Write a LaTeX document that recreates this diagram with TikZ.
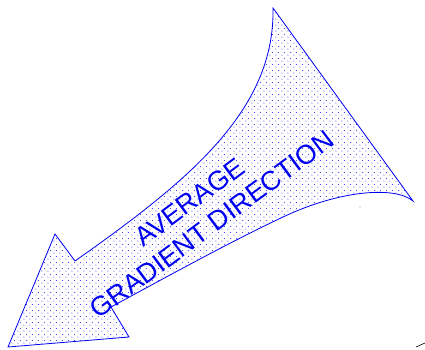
\documentclass[tikz,border=0pt]{standalone}
\usepackage{fontspec}
\setmainfont{Liberation Sans}
\usetikzlibrary{patterns.meta}
\definecolor{arrowblue}{RGB}{0,0,240}
\tikzdeclarepattern{name=sparsedots,type=uncolored,bounding box={(0,0) and (5.5pt,5.5pt)},tile size={(5.5pt,5.5pt)},code={\fill (1pt,1pt) circle (0.6pt); \fill (3.75pt,3.75pt) circle (0.6pt);}}
\tikzset{
  bigarrow/.style={draw=arrowblue, line width=0.8pt, line join=miter, pattern=sparsedots, pattern color=arrowblue!80},
  arrowtext/.style={text=arrowblue, font=\fontsize{27}{31}\selectfont, inner sep=0pt, anchor=base west, rotate=36.5}
}
\begin{document}
\begin{tikzpicture}[x=1pt,y=1pt]
\useasboundingbox (0,0) rectangle (425,349);
\coordinate (tip) at (8,2);
\coordinate (barbtop) at (55,115);
\coordinate (notchtop) at (75,88);
\coordinate (top) at (273,341);
\coordinate (right) at (413,148);
\coordinate (mid) at (283,132);
\coordinate (notchbot) at (111,42);
\coordinate (barbbot) at (129,12);
\draw[bigarrow] (tip) -- (barbtop) -- (notchtop)
  .. controls (190,169) and (275,239) .. (top)
  -- (right)
  .. controls (395,163) and (340,159) .. (mid)
  .. controls (230,107) and (170,74) .. (notchbot)
  -- (barbbot) -- cycle;
\node[arrowtext] (line1) at (143,101) {AVERAGE};
\node[arrowtext] (line2) at (98.5,29) {GRADIENT DIRECTION};
\fill[arrowblue!50] (360,142) circle (0.6pt);
\coordinate (s1) at (416,2);
\coordinate (s2) at (425,6);
\draw[black, line width=0.6pt] (s1) -- (s2);
\end{tikzpicture}
\end{document}
